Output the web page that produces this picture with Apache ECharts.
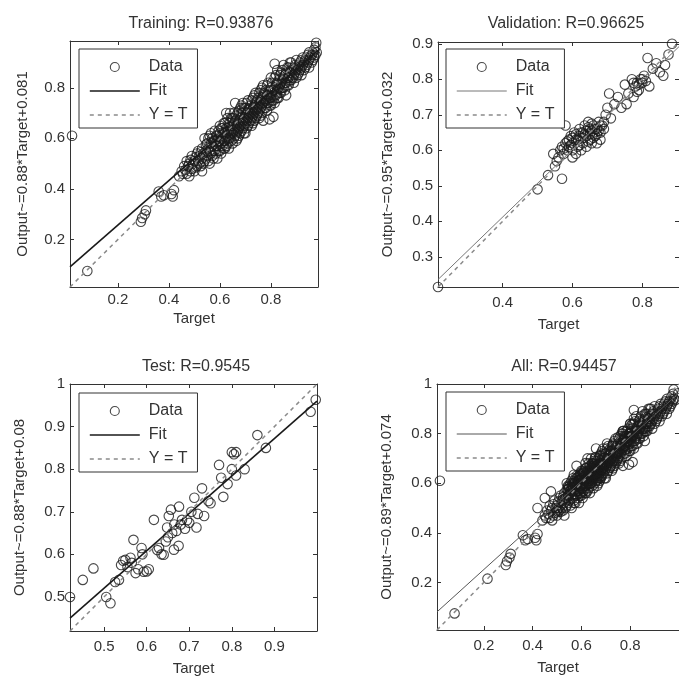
<!DOCTYPE html>
<html><head><meta charset="utf-8">
<script src="https://cdn.jsdelivr.net/npm/echarts@6/dist/echarts.min.js"></script>
<style>html,body{margin:0;padding:0;background:#fff;}#c{width:679px;height:677px;}</style>
</head><body><div id="c"></div>
<script>
// ---------- DATA ----------
const titles = ['Training: R=0.93876', 'Validation: R=0.96625', 'Test: R=0.9545', 'All: R=0.94457'];
const yNames = ['Output~=0.88*Target+0.081', 'Output~=0.95*Target+0.032', 'Output~=0.88*Target+0.08', 'Output~=0.89*Target+0.074'];
const xName = 'Target';
const legendNames = ['Data', 'Fit', 'Y = T'];

const trainRange = [0.012, 0.985];
const valRange = [0.215, 0.905];
const testRange = [0.42, 1.0];
const allRange = [0.008, 1.0];

const trainXTicks = [0.2, 0.4, 0.6, 0.8];
const trainYTicks = [0.2, 0.4, 0.6, 0.8];
const valXTicks = [0.4, 0.6, 0.8];
const valYTicks = [0.3, 0.4, 0.5, 0.6, 0.7, 0.8, 0.9];
const testXTicks = [0.5, 0.6, 0.7, 0.8, 0.9];
const testYTicks = [0.5, 0.6, 0.7, 0.8, 0.9, 1];
const allXTicks = [0.2, 0.4, 0.6, 0.8];
const allYTicks = [0.2, 0.4, 0.6, 0.8, 1];

const fitTrain = [[0.012, 0.092], [0.985, 0.948]];
const fitVal = [[0.215, 0.236], [0.905, 0.892]];
const fitTest = [[0.42, 0.450], [1.0, 0.960]];
const fitAll = [[0.008, 0.081], [1.0, 0.964]];

const identTrain = [[0.012, 0.012], [0.985, 0.985]];
const identVal = [[0.215, 0.215], [0.905, 0.905]];
const identTest = [[0.42, 0.42], [1.0, 1.0]];
const identAll = [[0.008, 0.008], [1.0, 1.0]];

const trainPts = [
 [0.02,0.61],[0.08,0.075],[0.29,0.27],[0.295,0.285],[0.305,0.30],[0.31,0.315],
 [0.36,0.39],[0.37,0.37],[0.38,0.375],[0.41,0.38],[0.42,0.395],[0.415,0.37],
 [0.44,0.45],[0.45,0.47],[0.46,0.49],[0.47,0.46],[0.47,0.51],[0.48,0.50],[0.48,0.45],[0.49,0.48],
 [0.49,0.53],[0.50,0.47],[0.50,0.51],[0.51,0.49],[0.51,0.54],[0.52,0.50],[0.52,0.53],[0.53,0.47],
 [0.53,0.52],[0.53,0.56],[0.54,0.51],[0.54,0.60],[0.545,0.55],[0.55,0.53],[0.55,0.58],[0.56,0.50],
 [0.56,0.55],[0.56,0.61],[0.57,0.53],[0.57,0.57],[0.57,0.60],[0.58,0.55],[0.58,0.59],[0.58,0.63],
 [0.59,0.52],[0.59,0.57],[0.59,0.61],[0.60,0.55],[0.60,0.59],[0.60,0.62],[0.60,0.65],
 [0.61,0.57],[0.61,0.60],[0.61,0.64],[0.62,0.56],[0.62,0.59],[0.62,0.62],[0.62,0.66],[0.625,0.70],
 [0.63,0.58],[0.63,0.61],[0.63,0.64],[0.63,0.68],[0.64,0.60],[0.64,0.63],[0.64,0.66],[0.64,0.70],
 [0.65,0.58],[0.65,0.62],[0.65,0.65],[0.65,0.68],[0.66,0.61],[0.66,0.64],[0.66,0.67],[0.66,0.74],
 [0.67,0.60],[0.67,0.63],[0.67,0.66],[0.67,0.70],[0.68,0.62],[0.68,0.65],[0.68,0.68],[0.68,0.72],
 [0.69,0.64],[0.69,0.67],[0.69,0.70],[0.69,0.74],[0.70,0.62],[0.70,0.66],[0.70,0.69],[0.70,0.72],
 [0.71,0.65],[0.71,0.68],[0.71,0.71],[0.71,0.75],[0.72,0.67],[0.72,0.70],[0.72,0.73],[0.73,0.66],
 [0.73,0.69],[0.73,0.72],[0.73,0.76],[0.74,0.68],[0.74,0.71],[0.74,0.74],[0.74,0.78],[0.75,0.70],
 [0.75,0.73],[0.75,0.76],[0.76,0.69],[0.76,0.72],[0.76,0.75],[0.76,0.79],[0.77,0.67],[0.77,0.74],
 [0.77,0.77],[0.77,0.81],[0.78,0.72],[0.78,0.75],[0.78,0.79],[0.79,0.74],[0.79,0.77],[0.79,0.82],
 [0.80,0.73],[0.80,0.76],[0.80,0.80],[0.80,0.84],[0.81,0.685],[0.795,0.675],
 [0.81,0.75],[0.81,0.79],[0.815,0.895],[0.82,0.77],[0.82,0.81],[0.82,0.85],[0.83,0.76],[0.83,0.80],
 [0.83,0.83],[0.84,0.78],[0.84,0.82],[0.84,0.86],[0.85,0.80],[0.85,0.84],[0.85,0.89],[0.86,0.77],
 [0.86,0.82],[0.86,0.86],[0.87,0.81],[0.87,0.84],[0.87,0.88],[0.88,0.83],[0.88,0.86],[0.88,0.90],
 [0.89,0.82],[0.89,0.85],[0.89,0.88],[0.90,0.84],[0.90,0.87],[0.90,0.91],
 [0.91,0.86],[0.91,0.89],[0.92,0.85],[0.92,0.88],[0.92,0.91],[0.93,0.87],[0.93,0.90],[0.94,0.89],
 [0.94,0.92],[0.95,0.88],[0.95,0.91],[0.95,0.94],[0.96,0.90],[0.96,0.93],[0.97,0.92],[0.97,0.95],
 [0.98,0.94],[0.978,0.978],
 [0.455,0.46],[0.465,0.475],[0.475,0.49],[0.485,0.47],[0.485,0.515],[0.495,0.50],[0.505,0.485],[0.505,0.525],
 [0.515,0.51],[0.515,0.55],[0.525,0.49],[0.525,0.545],[0.535,0.50],[0.535,0.54],[0.545,0.52],[0.545,0.575],
 [0.555,0.51],[0.555,0.56],[0.555,0.60],[0.565,0.54],[0.565,0.58],[0.565,0.62],[0.575,0.52],[0.575,0.55],
 [0.575,0.59],[0.585,0.54],[0.585,0.57],[0.585,0.61],[0.595,0.55],[0.595,0.59],[0.595,0.63],[0.605,0.54],
 [0.605,0.58],[0.605,0.61],[0.605,0.64],[0.615,0.56],[0.615,0.59],[0.615,0.62],[0.615,0.66],[0.625,0.57],
 [0.625,0.60],[0.625,0.64],[0.635,0.56],[0.635,0.60],[0.635,0.63],[0.635,0.66],[0.645,0.59],[0.645,0.62],
 [0.645,0.65],[0.645,0.68],[0.655,0.60],[0.655,0.63],[0.655,0.66],[0.655,0.70],[0.665,0.59],[0.665,0.62],
 [0.665,0.65],[0.665,0.69],[0.675,0.61],[0.675,0.64],[0.675,0.67],[0.675,0.71],[0.685,0.63],[0.685,0.66],
 [0.685,0.70],[0.685,0.73],[0.695,0.62],[0.695,0.65],[0.695,0.68],[0.695,0.72],[0.705,0.64],[0.705,0.67],
 [0.705,0.70],[0.705,0.74],[0.715,0.66],[0.715,0.69],[0.715,0.72],[0.725,0.65],[0.725,0.68],[0.725,0.71],
 [0.725,0.75],[0.735,0.67],[0.735,0.70],[0.735,0.73],[0.735,0.77],[0.745,0.69],[0.745,0.72],[0.745,0.75],
 [0.755,0.68],[0.755,0.71],[0.755,0.74],[0.755,0.78],[0.765,0.70],[0.765,0.73],[0.765,0.76],[0.765,0.80],
 [0.775,0.72],[0.775,0.75],[0.775,0.78],[0.785,0.71],[0.785,0.74],[0.785,0.77],[0.785,0.81],[0.795,0.73],
 [0.795,0.76],[0.795,0.79],[0.805,0.75],[0.805,0.78],[0.805,0.82],[0.815,0.74],[0.815,0.77],[0.815,0.80],
 [0.815,0.84],[0.825,0.76],[0.825,0.79],[0.825,0.82],[0.825,0.87],[0.835,0.78],[0.835,0.81],[0.835,0.85],
 [0.845,0.80],[0.845,0.83],[0.845,0.87],[0.855,0.79],[0.855,0.82],[0.855,0.85],[0.865,0.81],[0.865,0.84],
 [0.865,0.88],[0.875,0.83],[0.875,0.86],[0.875,0.90],[0.885,0.84],[0.885,0.87],[0.895,0.86],[0.895,0.89],
 [0.905,0.85],[0.905,0.88],[0.915,0.87],[0.915,0.90],[0.925,0.89],[0.925,0.92],[0.935,0.88],[0.935,0.91],
 [0.945,0.90],[0.945,0.93],[0.955,0.92],[0.965,0.91],[0.965,0.94],[0.975,0.93],[0.975,0.96]
];

const valPts = [
 [0.215,0.215],[0.50,0.49],[0.53,0.53],[0.545,0.59],[0.55,0.555],[0.555,0.57],[0.57,0.52],[0.56,0.58],
 [0.565,0.60],[0.57,0.61],[0.575,0.59],[0.58,0.67],[0.58,0.62],[0.585,0.60],[0.59,0.63],[0.59,0.61],
 [0.595,0.64],[0.60,0.60],[0.60,0.62],[0.605,0.65],[0.61,0.59],[0.61,0.63],[0.615,0.61],[0.62,0.64],
 [0.62,0.66],[0.625,0.60],[0.63,0.62],[0.63,0.65],[0.635,0.67],[0.64,0.61],[0.64,0.64],[0.645,0.68],
 [0.65,0.63],[0.65,0.66],[0.655,0.62],[0.66,0.65],[0.66,0.67],[0.665,0.64],[0.67,0.62],[0.67,0.66],
 [0.675,0.68],[0.68,0.65],[0.68,0.63],[0.685,0.67],[0.69,0.66],[0.695,0.70],[0.70,0.72],[0.705,0.76],
 [0.71,0.69],[0.72,0.73],[0.73,0.75],[0.74,0.72],[0.75,0.785],[0.755,0.73],[0.76,0.76],[0.77,0.80],
 [0.775,0.75],[0.78,0.78],[0.785,0.79],[0.79,0.77],[0.795,0.80],[0.80,0.79],[0.805,0.81],[0.815,0.86],
 [0.82,0.78],[0.83,0.83],[0.84,0.845],[0.85,0.82],[0.86,0.81],[0.865,0.84],[0.875,0.87],[0.885,0.90],
 [0.575,0.605],[0.585,0.625],[0.595,0.615],[0.60,0.635],[0.61,0.645],[0.615,0.63],[0.62,0.615],[0.625,0.65],
 [0.63,0.635],[0.635,0.645],[0.64,0.655],[0.645,0.625],[0.65,0.645],[0.655,0.655],[0.66,0.635],[0.665,0.66],
 [0.67,0.645],[0.675,0.655],[0.68,0.67],[0.69,0.68],[0.60,0.58],[0.645,0.665],[0.655,0.675],[0.785,0.765],
 [0.79,0.785],[0.80,0.80],[0.775,0.79],[0.81,0.795]
];

const testPts = [
 [0.42,0.50],[0.45,0.54],[0.475,0.567],[0.505,0.50],[0.515,0.485],[0.526,0.535],[0.535,0.54],[0.54,0.575],
 [0.545,0.585],[0.55,0.587],[0.555,0.57],[0.562,0.592],[0.565,0.58],[0.569,0.634],[0.574,0.556],[0.58,0.565],
 [0.588,0.615],[0.59,0.60],[0.593,0.559],[0.60,0.56],[0.605,0.565],[0.617,0.681],[0.625,0.61],[0.629,0.615],
 [0.635,0.60],[0.64,0.599],[0.645,0.63],[0.648,0.663],[0.65,0.64],[0.652,0.69],[0.657,0.705],[0.66,0.65],
 [0.664,0.611],[0.665,0.67],[0.67,0.655],[0.676,0.712],[0.675,0.62],[0.68,0.67],[0.683,0.681],[0.69,0.66],
 [0.695,0.68],[0.70,0.674],[0.705,0.70],[0.712,0.733],[0.717,0.663],[0.72,0.695],[0.73,0.755],[0.735,0.69],
 [0.745,0.725],[0.75,0.72],[0.77,0.81],[0.775,0.78],[0.78,0.735],[0.79,0.765],[0.80,0.80],[0.80,0.84],
 [0.805,0.835],[0.81,0.84],[0.81,0.785],[0.83,0.80],[0.86,0.88],[0.88,0.85],[0.985,0.935],[0.997,0.963]
];

const allPts = trainPts.concat(valPts, testPts);

// ---------- CHART ----------
const FONT = '"Liberation Sans", Arial, Helvetica, sans-serif';
const TXT = '#333';
const AX = '#333';
const DOT = '#1a1a1a';

const panels = [
  {pts: trainPts, range: trainRange, xt: trainXTicks, yt: trainYTicks, fit: fitTrain, ident: identTrain,
   grid: {left: 70, top: 41, width: 248, height: 246}, fitColor: '#1a1a1a', fitWidth: 1.6,
   xLabelMargin: 5, xNameGap: 24, yNameGap: 40, title: {left: 196, top: 11},
   legend: {left: 79, top: 49}},
  {pts: valPts, range: valRange, xt: valXTicks, yt: valYTicks, fit: fitVal, ident: identVal,
   grid: {left: 438, top: 42, width: 247, height: 245}, fitColor: '#777', fitWidth: 1,
   xLabelMargin: 8, xNameGap: 30, yNameGap: 43, title: {left: 561, top: 11},
   legend: {left: 446, top: 49}},
  {pts: testPts, range: testRange, xt: testXTicks, yt: testYTicks, fit: fitTest, ident: identTest,
   grid: {left: 70, top: 384, width: 247, height: 247}, fitColor: '#1a1a1a', fitWidth: 1.6,
   xLabelMargin: 8, xNameGap: 30, yNameGap: 43, title: {left: 191, top: 354},
   legend: {left: 79, top: 393}},
  {pts: allPts, range: allRange, xt: allXTicks, yt: allYTicks, fit: fitAll, ident: identAll,
   grid: {left: 437, top: 384, width: 248, height: 246}, fitColor: '#555', fitWidth: 1,
   xLabelMargin: 8, xNameGap: 30, yNameGap: 43, title: {left: 559, top: 354},
   legend: {left: 446, top: 392}}
];

const fmt = v => String(v);
const option = {
  backgroundColor: '#fff',
  animation: false,
  textStyle: {fontFamily: FONT},
  title: [], grid: [], xAxis: [], yAxis: [], series: [], legend: []
};

panels.forEach((p, k) => {
  option.title.push({text: titles[k], left: p.title.left, top: p.title.top, textAlign: 'center',
    textStyle: {fontFamily: FONT, fontSize: 16, fontWeight: 'normal', color: TXT}});
  option.grid.push(Object.assign({containLabel: false}, p.grid));
  const base = {gridIndex: k, type: 'value', min: p.range[0], max: p.range[1], splitLine: {show: false},
    axisLine: {show: true, onZero: false, lineStyle: {color: AX, width: 1}}};
  option.xAxis.push(Object.assign({}, base, {position: 'bottom',
    axisTick: {show: true, inside: true, length: 4, customValues: p.xt, lineStyle: {color: AX}},
    axisLabel: {customValues: p.xt, formatter: fmt, fontSize: 15, color: TXT, fontFamily: FONT, margin: p.xLabelMargin},
    name: xName, nameLocation: 'middle', nameGap: p.xNameGap,
    nameTextStyle: {fontSize: 15, color: TXT, fontFamily: FONT}}));
  option.xAxis.push(Object.assign({}, base, {position: 'top',
    axisTick: {show: true, inside: true, length: 4, customValues: p.xt, lineStyle: {color: AX}},
    axisLabel: {show: false}}));
  option.yAxis.push(Object.assign({}, base, {position: 'left',
    axisTick: {show: true, inside: true, length: 4, customValues: p.yt, lineStyle: {color: AX}},
    axisLabel: {customValues: p.yt, formatter: fmt, fontSize: 15, color: TXT, fontFamily: FONT, margin: 5},
    name: yNames[k], nameLocation: 'middle', nameGap: p.yNameGap, nameRotate: 90,
    nameTextStyle: {fontSize: 15, color: TXT, fontFamily: FONT}}));
  option.yAxis.push(Object.assign({}, base, {position: 'right',
    axisTick: {show: true, inside: true, length: 4, customValues: p.yt, lineStyle: {color: AX}},
    axisLabel: {show: false}}));

  option.series.push({type: 'scatter', name: 'Data', xAxisIndex: 2 * k, yAxisIndex: 2 * k, data: p.pts,
    symbol: 'circle', symbolSize: 9.5, clip: false, large: false,
    itemStyle: {color: 'rgba(0,0,0,0)', borderColor: DOT, borderWidth: 1.1}});
  option.series.push({type: 'line', name: 'Fit', xAxisIndex: 2 * k, yAxisIndex: 2 * k, data: p.fit,
    symbol: 'none', showSymbol: false, lineStyle: {color: p.fitColor, width: p.fitWidth}, itemStyle: {color: p.fitColor}});
  option.series.push({type: 'line', name: 'Y = T', xAxisIndex: 2 * k, yAxisIndex: 2 * k, data: p.ident,
    symbol: 'none', showSymbol: false, lineStyle: {color: '#8a8a8a', width: 1.5, type: [4, 4]}, itemStyle: {color: '#8a8a8a'}});

  option.legend.push({left: p.legend.left, top: p.legend.top, orient: 'vertical', selectedMode: false,
    padding: [10, 10, 5, 10], itemWidth: 50, itemHeight: 9, itemGap: 8,
    backgroundColor: '#fff', borderColor: '#333', borderWidth: 1, borderRadius: 0,
    textStyle: {fontFamily: FONT, fontSize: 16, color: TXT, padding: [0, 0, 0, 4]},
    data: [
      {name: 'Data', icon: 'circle', itemStyle: {color: 'rgba(0,0,0,0)', borderColor: DOT, borderWidth: 1.1}},
      {name: 'Fit', itemStyle: {opacity: 0}, lineStyle: {color: p.fitColor, width: p.fitWidth, opacity: 1}},
      {name: 'Y = T', itemStyle: {opacity: 0}, lineStyle: {color: '#8a8a8a', width: 1.5, type: [4, 4], opacity: 1}}
    ]});
});

const chart = echarts.init(document.getElementById('c'), null, {renderer: 'canvas'});
chart.setOption(option);
</script>
</body></html>
